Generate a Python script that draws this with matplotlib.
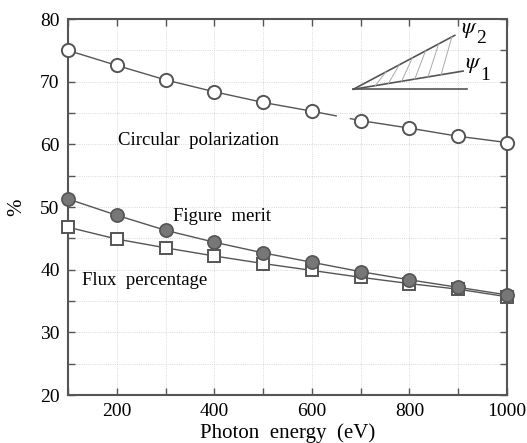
import matplotlib
matplotlib.use("Agg")
import matplotlib.pyplot as plt
import numpy as np

energy = [100, 200, 300, 400, 500, 600, 700, 800, 900, 1000]
circular_pol = [75.0, 72.6, 70.3, 68.4, 66.7, 65.3, 63.8, 62.6, 61.3, 60.3]
figure_merit = [51.3, 48.7, 46.3, 44.4, 42.7, 41.2, 39.7, 38.4, 37.2, 36.0]
flux_pct = [46.8, 44.9, 43.5, 42.2, 41.0, 39.9, 38.8, 37.8, 36.9, 35.7]

xticks = [200, 400, 600, 800, 1000]
yticks = [20, 30, 40, 50, 60, 70, 80]

plt.rcParams['font.family'] = ['Liberation Serif', 'DejaVu Serif']
plt.rcParams['mathtext.fontset'] = 'stix'

fig = plt.figure(figsize=(5.27, 4.43), dpi=100)
ax = fig.add_axes([0.129, 0.108, 0.833, 0.849])

edge = '#555555'
ax.plot(energy, circular_pol, '-', color=edge, lw=1.0, marker='o', ms=9.5,
        mfc='white', mec=edge, mew=1.4, zorder=3, clip_on=False)
# small gap in the circular polarization line (as in the original)
ax.plot([655, 674], [64.55, 64.15], color='white', lw=2.5, zorder=3.5)
ax.plot(energy, flux_pct, '-', color=edge, lw=1.0, marker='s', ms=8.5,
        mfc='white', mec=edge, mew=1.4, zorder=4, clip_on=False)
ax.plot(energy, figure_merit, '-', color=edge, lw=1.0, marker='o', ms=9.5,
        mfc='#777777', mec='#555555', mew=1.2, zorder=5, clip_on=False)

ax.set_xlim(100, 1000)
ax.set_ylim(20, 80)
ax.set_xticks(xticks)
ax.set_xticks(np.arange(100, 1001, 100), minor=True)
ax.set_yticks(yticks)
ax.set_yticks(np.arange(20, 81, 5), minor=True)
ax.grid(True, which='both', color='#cccccc', lw=0.6, ls=':')
ax.tick_params(which='both', direction='in', top=True, right=True,
               length=5, width=1.0, color=edge, labelsize=14, pad=6)
for s in ax.spines.values():
    s.set_color(edge)
    s.set_linewidth(1.5)

ax.set_xlabel('Photon  energy  (eV)', fontsize=15, labelpad=2)
ax.set_ylabel('%', fontsize=15, labelpad=10)

ax.text(202, 60.7, 'Circular  polarization', fontsize=13.5, va='center')
ax.text(315, 48.5, 'Figure  merit', fontsize=13.5, va='center')
ax.text(129, 38.3, 'Flux  percentage', fontsize=13.5, va='center')

# inset angle diagram
ox, oy = 685, 68.8
x1e, y1e = 910, 71.7
x2e, y2e = 893, 77.4
ax.plot([ox, 918], [oy, oy], color=edge, lw=1.2)
ax.plot([ox, x1e], [oy, y1e], color=edge, lw=1.2)
ax.plot([ox, x2e], [oy, y2e], color=edge, lw=1.2)
s1 = (y1e - oy) / (x1e - ox)
s2 = (y2e - oy) / (x2e - ox)
for xa in np.linspace(730, 865, 6):
    ya = oy + s1 * (xa - ox)
    xb = min(xa + 22, x2e)
    yb = oy + s2 * (xb - ox)
    ax.plot([xa, xb], [ya, yb], color='#aaaaaa', lw=0.7)
ax.text(905, 78.2, r'$\psi$', fontsize=16, va='center')
ax.text(936, 76.9, '2', fontsize=14, va='center')
ax.text(913, 72.6, r'$\psi$', fontsize=16, va='center')
ax.text(946, 71.0, '1', fontsize=14, va='center')

fig.savefig('out.png', dpi=100)
